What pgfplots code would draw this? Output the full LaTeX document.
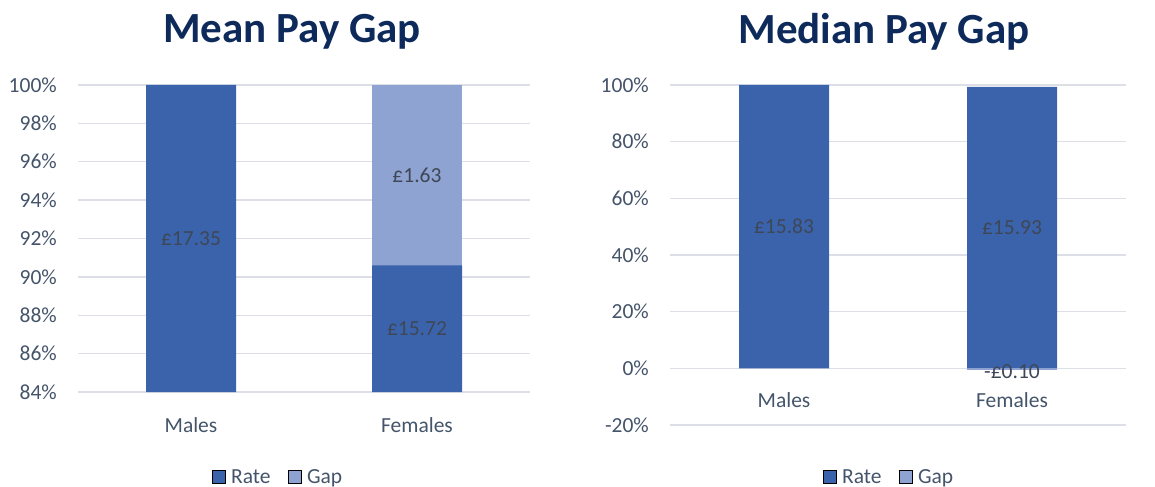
\documentclass[border=0pt]{standalone}
\usepackage{pgfplots}
\pgfplotsset{compat=1.18}
\usepackage{fontspec}
\setmainfont{Carlito}
\definecolor{rate}{HTML}{3B63AC}
\definecolor{gap}{HTML}{8FA3D3}
\definecolor{txt}{HTML}{44546A}
\definecolor{lbl}{HTML}{3E4756}
\definecolor{ttl}{HTML}{0D2A5B}
\definecolor{grd}{HTML}{DCE0E6}
\pgfplotsset{
  mystyle/.style={
    scale only axis,
    anchor=south west,
    xmin=-0.5, xmax=1.5,
    xtick={0,1}, xticklabels={Males,Females},
    axis line style={draw=none},
    major tick length=0pt,
    ymajorgrids, grid style={grd, line width=1.4bp},
    tick label style={font=\fontsize{21.5bp}{24bp}\selectfont, text=txt},
    /pgf/number format/assume math mode=true,
    yticklabel style={anchor=east, inner sep=0pt, xshift=-21bp},
    yticklabel={\pgfmathprintnumber{\tick}\%},
    title style={font=\fontsize{43bp}{48bp}\selectfont\bfseries, text=ttl, anchor=center},
    legend style={draw=none, fill=none, legend columns=2, anchor=center,
      font=\fontsize{21.5bp}{24bp}\selectfont, text=txt,
      /tikz/every even column/.append style={column sep=15bp}},
    legend image code/.code={\fill[#1] (0bp,-6.5bp) rectangle (13.5bp,7bp); \path (17bp,0bp);},
    clip=false,
  },
  lblplot/.style={draw=none, mark=none, nodes near coords, point meta=explicit symbolic,
    every node near coord/.style={anchor=center, font=\fontsize{21.5bp}{24bp}\selectfont, text=lbl}},
}
\begin{document}
\begin{tikzpicture}
\useasboundingbox (0,0) rectangle (1155bp,487bp);
% Mean pay gap
\begin{axis}[mystyle,
  at={(78bp,95bp)}, width=452bp, height=307bp,
  ymin=84, ymax=100, ytick={84,86,...,100},
  xticklabel style={anchor=center, inner sep=0pt, yshift=-33bp},
  title={Mean Pay Gap}, title style={at={(0.5,1)}, yshift=47bp, xshift=-12bp},
  legend style={at={(0.5,-0.277)}, xshift=-26bp},
]
\addlegendimage{fill=rate}\addlegendentry{Rate}
\addlegendimage{fill=gap}\addlegendentry{Gap}
\addplot[ybar, bar width=90bp, bar shift=0pt, fill=gap, draw=none, forget plot] coordinates {(1,100)};
\addplot[ybar, bar width=90bp, bar shift=0pt, fill=rate, draw=none, forget plot] coordinates {(0,100) (1,90.6)};
\addplot[lblplot, forget plot] coordinates {(0,92) [£17.35] (1,87.3) [£15.72] (1,95.3) [£1.63]};
\end{axis}
% Median pay gap
\begin{axis}[mystyle,
  at={(670bp,62bp)}, width=456bp, height=340bp,
  ymin=-20, ymax=100, ytick={-20,0,...,100},
  xticklabel style={anchor=center, inner sep=0pt, yshift=25bp},
  title={Median Pay Gap}, title style={at={(0.5,1)}, yshift=47bp, xshift=-14bp},
  legend style={at={(0.5,-0.153)}, xshift=-9bp},
]
\addlegendimage{fill=rate}\addlegendentry{Rate}
\addlegendimage{fill=gap}\addlegendentry{Gap}
\addplot[ybar, bar width=90bp, bar shift=0pt, fill=rate, draw=none, forget plot] coordinates {(0,100) (1,99.37)};
\addplot[ybar, bar width=90bp, bar shift=0pt, fill=gap, draw=none, forget plot] coordinates {(1,-0.63)};
\addplot[lblplot, forget plot] coordinates {(0,50) [£15.83] (1,49.7) [£15.93] (1,-1) [-£0.10]};
\end{axis}
\end{tikzpicture}
\end{document}
